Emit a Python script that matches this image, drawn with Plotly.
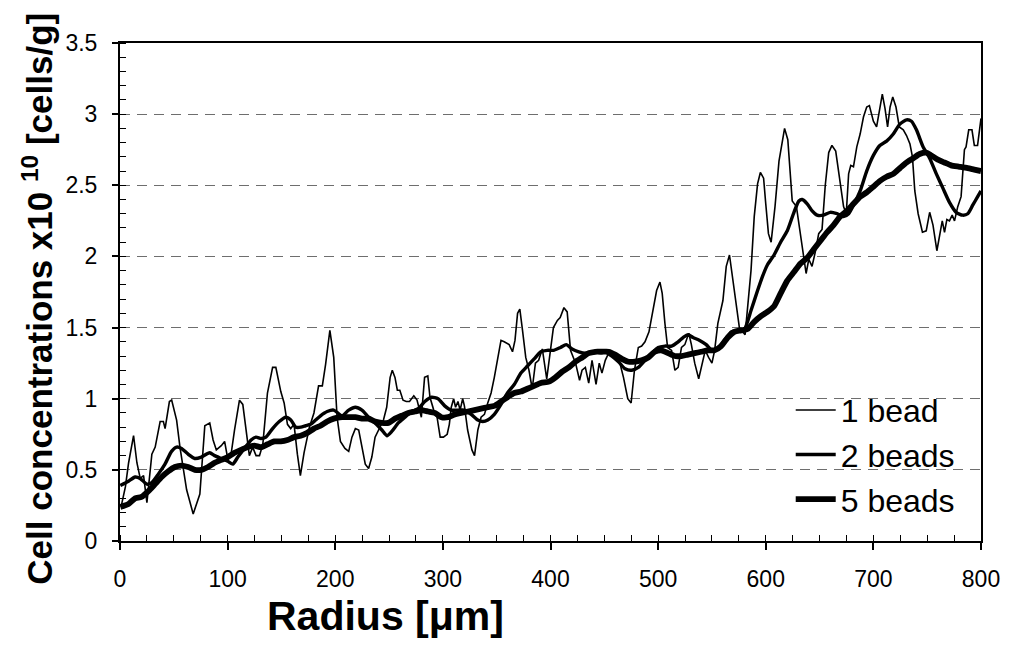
import plotly.graph_objects as go

# Radial cell concentration profiles (x10^10 cells/g) for three bead counts
radius_1bead = [1, 5, 8, 12.6, 15.7, 18.8, 21.9, 25, 29.6, 32.7, 37.3, 40.3, 41.9, 45.9, 48,
                52.6, 55.7, 61.9, 68, 74.2, 78.8, 83.4, 86.5, 89.5, 94.1, 97.2, 100.3, 103.4,
                106.4, 111, 114.1, 117.2, 120.2, 123.3, 126.4, 129.6, 132.7, 137, 141.8, 144.8,
                149.4, 152.5, 155.6, 158.6, 161.7, 164.8, 167.6, 171, 176, 180.2, 184.5, 188,
                191, 195, 198.6, 201.7, 204.8, 209, 212.5, 215.5, 218.7, 221.8, 224.8, 227.9,
                231, 234, 237, 240, 244.8, 247.8, 251, 253, 255.5, 257.7, 260, 263, 266, 269,
                273, 276, 280, 283, 286, 288, 291.5, 294.6, 297.5, 300.5, 304, 306, 307.8, 310,
                311.8, 314, 316, 318.4, 320, 323, 327, 329.4, 332.5, 335.5, 338.6, 341.7, 344.8,
                347.8, 350.9, 354, 357, 361.6, 364.7, 367, 369.4, 371.5, 374, 377, 380, 383, 386,
                389, 392.4, 396.5, 402.7, 406.4, 409, 412.5, 415.5, 418.6, 423.3, 427, 429.3,
                432.4, 435.5, 438.6, 442.3, 445.3, 447.8, 450.9, 454, 458.6, 463.2, 467.8, 471.8,
                474.9, 478, 481.6, 484.7, 487.8, 491.5, 494.9, 498.6, 501.7, 503.8, 506.3, 508.8,
                512.5, 515.6, 518.6, 521.7, 524.8, 528.5, 530.9, 534, 537.7, 540.8, 543.8, 546.9,
                550, 552.5, 555.5, 560.2, 563.3, 566.3, 569.4, 572.5, 575.5, 580.8, 583, 586.3,
                589.3, 592.4, 595, 598, 600, 602.5, 605, 608.6, 612.3, 614.8, 617.5, 620.5,
                624.6, 628.5, 632, 635, 637.5, 640, 643, 646, 649.2, 652.3, 655.3, 658.5, 661.5,
                665, 669, 672.3, 674.8, 677, 679, 681.5, 684.6, 687.7, 690.8, 693.8, 696.3, 700,
                703, 706, 708.3, 710.8, 713.2, 715.5, 718, 721, 724.1, 727.8, 730.8, 734, 736.3,
                738.5, 741.6, 745.6, 749.1, 752.3, 755.4, 759, 761.6, 764, 766.1, 768.3, 770.7,
                773.2, 775.4, 778.4, 781.5, 784.6, 786.1, 788.6, 791.6, 793.8, 796.8, 799, 800]
conc_1bead = [0.24, 0.38, 0.55, 0.74, 0.55, 0.44, 0.46, 0.27, 0.61, 0.66, 0.84, 0.84, 0.79, 0.98,
              0.99, 0.85, 0.66, 0.36, 0.19, 0.33, 0.81, 0.83, 0.71, 0.64, 0.67, 0.70, 0.57, 0.62,
              0.78, 0.99, 0.96, 0.78, 0.60, 0.66, 0.60, 0.60, 0.68, 1.04, 1.22, 1.22, 1.05, 0.97,
              0.82, 0.79, 0.82, 0.61, 0.46, 0.62, 0.80, 0.90, 1.09, 1.09, 1.24, 1.48, 1.29, 0.87,
              0.70, 0.65, 0.63, 0.73, 0.79, 0.78, 0.66, 0.54, 0.51, 0.59, 0.73, 0.78, 0.85, 0.94,
              1.15, 1.20, 1.15, 1.06, 1.06, 0.99, 0.98, 0.98, 1.02, 0.99, 0.87, 1.15, 1.16, 1.01,
              0.92, 0.87, 0.73, 0.73, 0.75, 0.82, 0.94, 1.00, 0.94, 0.98, 0.92, 1.00, 0.95, 0.78,
              0.64, 0.60, 0.78, 0.87, 0.89, 0.97, 1.04, 1.15, 1.29, 1.41, 1.40, 1.38, 1.33, 1.41,
              1.60, 1.63, 1.48, 1.29, 1.20, 1.07, 1.25, 1.27, 1.35, 1.14, 1.50, 1.55, 1.57, 1.64,
              1.61, 1.34, 1.25, 1.13, 1.20, 1.22, 1.11, 1.27, 1.10, 1.25, 1.18, 1.27, 1.32, 1.31,
              1.29, 1.15, 1.00, 0.97, 1.20, 1.36, 1.37, 1.40, 1.47, 1.60, 1.76, 1.82, 1.74, 1.53,
              1.36, 1.34, 1.20, 1.22, 1.36, 1.38, 1.46, 1.38, 1.25, 1.14, 1.25, 1.34, 1.29, 1.25,
              1.34, 1.53, 1.69, 1.93, 2.01, 1.83, 1.67, 1.50, 1.45, 1.62, 1.90, 2.28, 2.51, 2.59,
              2.55, 2.37, 2.16, 2.10, 2.35, 2.67, 2.78, 2.90, 2.82, 2.39, 2.35, 2.16, 2.00, 1.88,
              1.98, 1.93, 2.03, 2.16, 2.19, 2.50, 2.73, 2.78, 2.74, 2.54, 2.35, 2.30, 2.58, 2.64,
              2.63, 2.77, 2.86, 2.98, 3.05, 3.06, 2.95, 2.91, 3.05, 3.14, 3.04, 2.91, 3.05, 3.12,
              3.05, 2.91, 2.89, 2.85, 2.79, 2.70, 2.46, 2.30, 2.17, 2.18, 2.31, 2.22, 2.04, 2.14,
              2.25, 2.17, 2.26, 2.25, 2.29, 2.25, 2.35, 2.42, 2.75, 2.77, 2.89, 2.89, 2.78, 2.78,
              2.93, 2.97]

radius_2beads = [0.3, 7.9, 14, 18.7, 24.9, 29.5, 35.6, 41.8, 47.9, 52.6, 57.2, 63.3, 69.5, 75.6,
                 83.3, 87.9, 94, 100.2, 104.8, 109.5, 115.6, 121.8, 126.4, 131, 135.6, 141.8, 148,
                 154, 158.7, 163.3, 168, 172.5, 177.1, 181.7, 186.3, 192.5, 198.6, 206.3, 212.5,
                 218.7, 224.8, 231, 237, 243.3, 248, 252.5, 258.6, 264.8, 271, 277, 283.2, 289.4,
                 295.5, 301.7, 307.8, 314, 320, 326.3, 332.5, 337, 341.7, 347.8, 354, 360, 366.3,
                 372.5, 378.6, 384.8, 391, 397, 403, 409.3, 414.6, 420, 426.3, 432.4, 438.6,
                 444.7, 450.9, 457, 463.2, 469.3, 475.5, 481.6, 487.8, 494, 500, 506.3, 512.5,
                 518.6, 523.2, 527.8, 532.4, 538.6, 544.7, 550, 555.5, 561.7, 567.9, 574, 580.2,
                 586.3, 592.4, 597, 601.5, 607.7, 613.8, 620, 626.2, 630.8, 633.9, 638.5, 643.1,
                 647.7, 653.8, 660, 666.2, 672.3, 677, 681.5, 687.7, 693.8, 700, 706, 712.3,
                 718.5, 724.6, 730.8, 735.4, 740, 746.2, 752.3, 758.5, 764.6, 770.7, 776.9, 783,
                 787.7, 792.3, 796.9, 800]
conc_2beads = [0.39, 0.42, 0.45, 0.44, 0.40, 0.41, 0.47, 0.54, 0.63, 0.66, 0.65, 0.61, 0.58, 0.59,
               0.62, 0.60, 0.58, 0.56, 0.54, 0.59, 0.65, 0.71, 0.73, 0.72, 0.73, 0.79, 0.84, 0.87,
               0.85, 0.80, 0.80, 0.81, 0.82, 0.85, 0.88, 0.91, 0.92, 0.88, 0.92, 0.94, 0.92, 0.87,
               0.83, 0.78, 0.74, 0.77, 0.83, 0.87, 0.91, 0.93, 0.98, 1.01, 1.00, 0.95, 0.92, 0.92,
               0.92, 0.89, 0.85, 0.84, 0.85, 0.89, 0.96, 1.04, 1.10, 1.18, 1.23, 1.28, 1.33, 1.34,
               1.34, 1.36, 1.38, 1.35, 1.33, 1.32, 1.33, 1.33, 1.33, 1.30, 1.26, 1.21, 1.20, 1.22,
               1.27, 1.32, 1.36, 1.37, 1.37, 1.40, 1.43, 1.45, 1.43, 1.41, 1.38, 1.34, 1.35, 1.41,
               1.47, 1.48, 1.49, 1.62, 1.76, 1.86, 1.94, 2.01, 2.10, 2.18, 2.31, 2.39, 2.40, 2.37,
               2.32, 2.29, 2.29, 2.31, 2.30, 2.28, 2.30, 2.36, 2.46, 2.60, 2.71, 2.78, 2.81, 2.86,
               2.93, 2.96, 2.95, 2.89, 2.77, 2.69, 2.58, 2.48, 2.38, 2.31, 2.29, 2.30, 2.36, 2.42,
               2.46]

radius_5beads = [0.3, 7.9, 14, 20, 26.4, 32.6, 38.7, 44.9, 51, 57.2, 63.3, 69.5, 75.6, 81.8, 87.9,
                 94, 100.2, 106.4, 112.5, 118.6, 124.8, 131, 137.1, 143.3, 149.4, 155.6, 161.7,
                 167.9, 174, 180.2, 186.3, 192.5, 198.6, 206.3, 212.5, 218.7, 224.8, 231, 237,
                 243.3, 249.4, 255.5, 261.7, 267.8, 274, 280, 286.3, 292.5, 298.6, 304.8, 311,
                 317, 323.2, 329.4, 335.5, 341.7, 347.8, 354, 360, 366.3, 372.5, 378.6, 384.8,
                 391, 398.6, 404.7, 410.9, 417, 423.2, 429.4, 435.5, 441.6, 447.8, 454, 460,
                 466.2, 472.4, 478.5, 484.7, 490.8, 497, 503, 509.3, 515.4, 521.6, 527.8, 534,
                 540, 546.2, 552.4, 558.5, 564.7, 570.8, 577, 583.1, 589.3, 595.5, 601.5, 607.7,
                 613.8, 620, 626.2, 632.3, 638.5, 644.6, 650.8, 657, 663, 669.2, 675.4, 681.5,
                 687.7, 693.8, 700, 706, 712.3, 718.5, 724.6, 730.8, 737, 743, 749.1, 753.7,
                 759.9, 766, 772.2, 779.9, 787.6, 793.7, 800]
conc_5beads = [0.24, 0.26, 0.30, 0.31, 0.35, 0.40, 0.45, 0.49, 0.52, 0.53, 0.52, 0.50, 0.50, 0.52,
               0.55, 0.57, 0.59, 0.62, 0.64, 0.66, 0.67, 0.66, 0.68, 0.70, 0.70, 0.71, 0.73, 0.74,
               0.76, 0.79, 0.81, 0.84, 0.86, 0.87, 0.87, 0.87, 0.86, 0.86, 0.84, 0.83, 0.83, 0.86,
               0.88, 0.90, 0.91, 0.92, 0.91, 0.90, 0.87, 0.87, 0.89, 0.90, 0.91, 0.92, 0.93, 0.94,
               0.95, 0.98, 1.01, 1.04, 1.05, 1.07, 1.09, 1.11, 1.12, 1.15, 1.19, 1.22, 1.26, 1.29,
               1.32, 1.33, 1.33, 1.33, 1.31, 1.28, 1.26, 1.26, 1.27, 1.29, 1.33, 1.34, 1.32, 1.30,
               1.30, 1.31, 1.32, 1.33, 1.34, 1.34, 1.37, 1.43, 1.47, 1.48, 1.49, 1.54, 1.58, 1.61,
               1.65, 1.74, 1.83, 1.89, 1.95, 1.99, 2.05, 2.11, 2.17, 2.22, 2.28, 2.32, 2.37, 2.42,
               2.45, 2.49, 2.53, 2.56, 2.58, 2.62, 2.66, 2.69, 2.72, 2.73, 2.71, 2.68, 2.66, 2.64,
               2.63, 2.62, 2.61, 2.60]

series_names = ["1 bead", "2 beads", "5 beads"]

FONT = "Liberation Sans, Arial, sans-serif"

fig = go.Figure()
fig.add_trace(go.Scatter(x=radius_1bead, y=conc_1bead, mode="lines", name=series_names[0],
                         line=dict(color="black", width=1.6)))
fig.add_trace(go.Scatter(x=radius_2beads, y=conc_2beads, mode="lines", name=series_names[1],
                         line=dict(color="black", width=3.4, shape="spline", smoothing=0.6)))
fig.add_trace(go.Scatter(x=radius_5beads, y=conc_5beads, mode="lines", name=series_names[2],
                         line=dict(color="black", width=5.8, shape="spline", smoothing=0.6)))

fig.update_layout(
    width=1012, height=658,
    margin=dict(l=120, r=25, t=43, b=117),
    plot_bgcolor="white", paper_bgcolor="white",
    font=dict(family=FONT, color="black"),
    showlegend=True,
    legend=dict(x=0.779, y=0.318, xanchor="left", yanchor="top",
                bgcolor="rgba(0,0,0,0)", font=dict(size=32, family=FONT, color="black"),
                itemwidth=40, tracegroupgap=0),
)

fig.update_xaxes(
    range=[0, 800], dtick=100, tick0=0,
    showline=True, linecolor="black", linewidth=2, mirror=True,
    ticks="outside", ticklen=7, tickwidth=1.5, tickcolor="black",
    ticklabelstandoff=9,
    tickfont=dict(size=23, family=FONT, color="black"),
    showgrid=False, zeroline=False,
    minor=dict(dtick=25, ticks="inside", ticklen=6, tickwidth=1.2, tickcolor="black", showgrid=False),
)

fig.update_yaxes(
    range=[0, 3.5], dtick=0.5, tick0=0,
    showline=True, linecolor="black", linewidth=2, mirror=True,
    ticks="outside", ticklen=6, tickwidth=1.5, tickcolor="black",
    ticklabelstandoff=10,
    tickfont=dict(size=23, family=FONT, color="black"),
    showgrid=True, gridcolor="#6e6e6e", gridwidth=1, griddash="10px,7px",
    zeroline=False,
    minor=dict(dtick=0.1, ticks="inside", ticklen=6, tickwidth=1.2, tickcolor="black", showgrid=False),
)

fig.add_annotation(
    text="<b>Radius [μm]</b>", xref="paper", yref="paper",
    x=0.308, y=-0.150, xanchor="center", yanchor="middle", showarrow=False,
    font=dict(size=41, family=FONT, color="black"),
)
fig.add_annotation(
    text="<b>Cell concentrations x10 <sup>10</sup> [cells/g]</b>", xref="paper", yref="paper",
    x=-0.095, y=0.487, xanchor="center", yanchor="middle", showarrow=False, textangle=-90,
    font=dict(size=35, family=FONT, color="black"),
)

fig.write_html("out.html")
